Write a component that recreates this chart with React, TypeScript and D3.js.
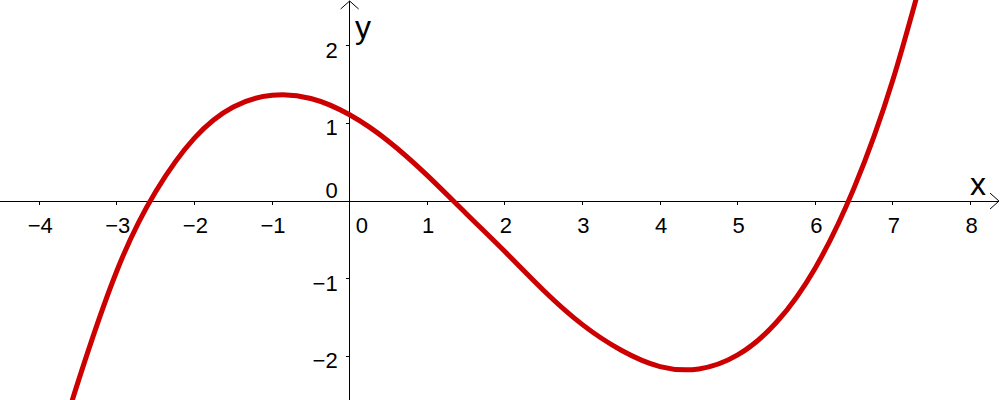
import React from "react";
import * as d3 from "d3";

// Sample points
const curveX = [-3.75, -3.5, -3, -2.5, -2, -1.5, -1, -0.5, 0, 0.5, 1, 1.5, 2, 2.5, 3, 3.5, 4, 4.5, 5, 5.5, 6, 6.5, 7, 7.5];
const curveY = [-3.15, -2.33, -0.9, 0.12, 0.81, 1.21, 1.36, 1.32, 1.11, 0.77, 0.33, -0.16, -0.65, -1.15, -1.59, -1.92, -2.13, -2.16, -1.98, -1.56, -0.86, 0.17, 1.56, 3.34];

const xTicks = [-4, -3, -2, -1, 1, 2, 3, 4, 5, 6, 7, 8];
const yTicks = [-2, -1, 1, 2];
const xDomain = [-4.505, 8.38];
const yDomain = [-2.56, 2.587];

const W = 1000;
const H = 400;
const FONT = "'Liberation Sans', Arial, sans-serif";
const fmt = (v: number) => (v < 0 ? "\u2212" + Math.abs(v) : String(v));

export default function App() {
  const x = d3.scaleLinear().domain(xDomain).range([0, W]);
  const y = d3.scaleLinear().domain(yDomain).range([H, 0]);
  const pts: [number, number][] = curveX.map((v, i) => [v, curveY[i]]);
  const line = d3
    .line<[number, number]>()
    .x((d) => x(d[0]))
    .y((d) => y(d[1]))
    .curve(d3.curveNatural);
  const x0 = x(0);
  const y0 = y(0);
  return (
    <svg
      width={W}
      height={H}
      style={{ position: "absolute", left: 0, top: 0, background: "#fff" }}
    >
      <defs>
        <clipPath id="clip">
          <rect x={0} y={0} width={W} height={H} />
        </clipPath>
      </defs>
      <rect x={0} y={0} width={W} height={H} fill="#fff" />
      {/* axes */}
      <line x1={0} x2={W - 1} y1={y0} y2={y0} stroke="#000" strokeWidth={1} shapeRendering="crispEdges" />
      <line x1={x0} x2={x0} y1={1} y2={H} stroke="#000" strokeWidth={1} shapeRendering="crispEdges" />
      <polyline
        points={`${W - 10},${y0 - 8} ${W - 1},${y0} ${W - 10},${y0 + 8}`}
        fill="none"
        stroke="#000"
        strokeWidth={1}
      />
      <polyline
        points={`${x0 - 9},${9} ${x0},${1} ${x0 + 9},${9}`}
        fill="none"
        stroke="#000"
        strokeWidth={1}
      />
      {xTicks.map((t) => (
        <g key={"x" + t}>
          <line x1={x(t)} x2={x(t)} y1={y0} y2={y0 + 4} stroke="#000" strokeWidth={1} shapeRendering="crispEdges" />
          <text x={x(t) + 1} y={y0 + 32} textAnchor="middle" fontFamily={FONT} fontSize={22} fill="#000">
            {fmt(t)}
          </text>
        </g>
      ))}
      {yTicks.map((t) => (
        <g key={"y" + t}>
          <line x1={x0 - 4} x2={x0} y1={y(t)} y2={y(t)} stroke="#000" strokeWidth={1} shapeRendering="crispEdges" />
          <text x={x0 - 12} y={y(t) + 12} textAnchor="end" fontFamily={FONT} fontSize={22} fill="#000">
            {fmt(t)}
          </text>
        </g>
      ))}
      <text x={x0 + 6} y={y0 + 32} textAnchor="start" fontFamily={FONT} fontSize={22} fill="#000">0</text>
      <text x={x0 - 12} y={y0 - 3} textAnchor="end" fontFamily={FONT} fontSize={22} fill="#000">0</text>
      <text x={970} y={195} fontFamily={FONT} fontSize={32} fill="#000">x</text>
      <text x={355} y={38} fontFamily={FONT} fontSize={32} fill="#000">y</text>
      <path
        d={line(pts) || ""}
        fill="none"
        stroke="#cc0000"
        strokeWidth={5}
        strokeLinejoin="round"
        clipPath="url(#clip)"
      />
    </svg>
  );
}
